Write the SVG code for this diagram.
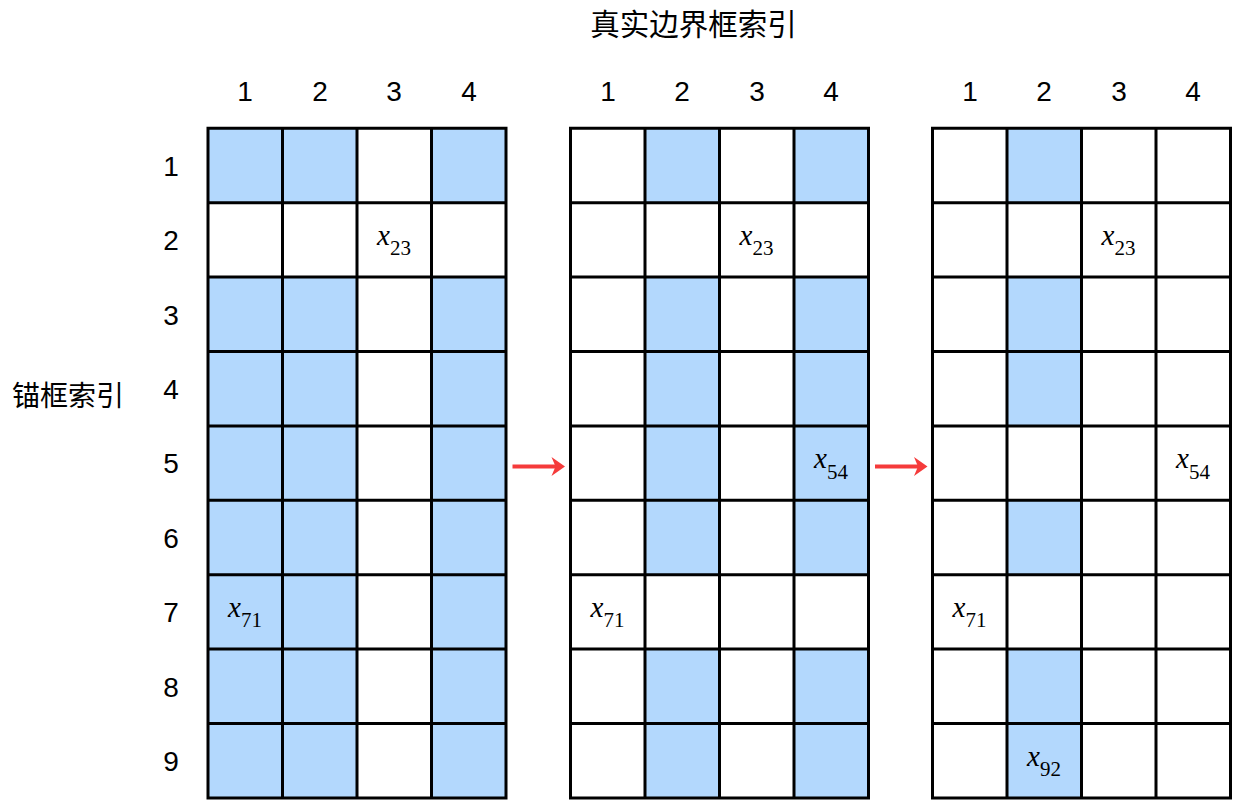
<svg xmlns="http://www.w3.org/2000/svg" width="1242" height="805" viewBox="0 0 1242 805">
<style>
.lbl{font-family:"Liberation Sans",Arial,sans-serif;font-size:28px;fill:#000;text-anchor:middle}
.cjk{font-family:"Liberation Sans","Noto Sans CJK SC",sans-serif;font-size:28px;fill:#000}
.m{font-family:"Liberation Serif","Times New Roman",serif;font-size:29px;fill:#000;text-anchor:middle}
.m .i{font-style:italic}
.m .s{font-size:21px}
.bg{fill:#fff}
.b{fill:#b3d8fd}
.grid{fill:none;stroke:#000;stroke-width:3;stroke-linecap:square}
.arr{fill:none;stroke:#f53b3b;stroke-width:4}
.ah{fill:#f53b3b}
</style>
<defs>
<path id="gl" class="grid" d="M0,0V669.6M74.5,0V669.6M149,0V669.6M223.5,0V669.6M298,0V669.6M0,0H298M0,74.4H298M0,148.8H298M0,223.2H298M0,297.6H298M0,372H298M0,446.4H298M0,520.8H298M0,595.2H298M0,669.6H298"/>
</defs>
<text class="cjk" x="693.5" y="35" text-anchor="middle" style="font-size:29.5px">真实边界框索引</text>
<text class="cjk" x="12" y="406">锚框索引</text>
<g id="col-labels">
<text class="lbl" x="245" y="101">1</text><text class="lbl" x="320" y="101">2</text><text class="lbl" x="394" y="101">3</text><text class="lbl" x="469" y="101">4</text>
<text class="lbl" x="608" y="101">1</text><text class="lbl" x="682" y="101">2</text><text class="lbl" x="757" y="101">3</text><text class="lbl" x="831" y="101">4</text>
<text class="lbl" x="970" y="101">1</text><text class="lbl" x="1044" y="101">2</text><text class="lbl" x="1119" y="101">3</text><text class="lbl" x="1193" y="101">4</text>
</g>
<g id="row-labels">
<text class="lbl" x="171" y="175.5">1</text>
<text class="lbl" x="171" y="250">2</text>
<text class="lbl" x="171" y="324.5">3</text>
<text class="lbl" x="171" y="399">4</text>
<text class="lbl" x="171" y="473">5</text>
<text class="lbl" x="171" y="547.5">6</text>
<text class="lbl" x="171" y="622">7</text>
<text class="lbl" x="171" y="696.5">8</text>
<text class="lbl" x="171" y="771">9</text>
</g>
<g id="grid1" transform="translate(208,128.3)">
<rect class="bg" width="298" height="669.6"/>
<rect class="b" x="0" y="0" width="74.5" height="74.4"/><rect class="b" x="74.5" y="0" width="74.5" height="74.4"/><rect class="b" x="223.5" y="0" width="74.5" height="74.4"/>
<rect class="b" x="0" y="148.8" width="74.5" height="520.8"/><rect class="b" x="74.5" y="148.8" width="74.5" height="520.8"/><rect class="b" x="223.5" y="148.8" width="74.5" height="520.8"/>
<use href="#gl"/>
<text class="m" x="186" y="116.6"><tspan class="i">x</tspan><tspan class="s" dy="10.5">23</tspan></text>
<text class="m" x="37" y="488.6"><tspan class="i">x</tspan><tspan class="s" dy="10.5">71</tspan></text>
</g>
<g id="grid2" transform="translate(570.5,128.3)">
<rect class="bg" width="298" height="669.6"/>
<rect class="b" x="74.5" y="0" width="74.5" height="74.4"/><rect class="b" x="223.5" y="0" width="74.5" height="74.4"/>
<rect class="b" x="74.5" y="148.8" width="74.5" height="297.6"/><rect class="b" x="223.5" y="148.8" width="74.5" height="297.6"/>
<rect class="b" x="74.5" y="520.8" width="74.5" height="148.8"/><rect class="b" x="223.5" y="520.8" width="74.5" height="148.8"/>
<use href="#gl"/>
<text class="m" x="186" y="116.6"><tspan class="i">x</tspan><tspan class="s" dy="10.5">23</tspan></text>
<text class="m" x="260.5" y="339.8"><tspan class="i">x</tspan><tspan class="s" dy="10.5">54</tspan></text>
<text class="m" x="37" y="488.6"><tspan class="i">x</tspan><tspan class="s" dy="10.5">71</tspan></text>
</g>
<g id="grid3" transform="translate(932.5,128.3)">
<rect class="bg" width="298" height="669.6"/>
<rect class="b" x="74.5" y="0" width="74.5" height="74.4"/>
<rect class="b" x="74.5" y="148.8" width="74.5" height="148.8"/>
<rect class="b" x="74.5" y="372" width="74.5" height="74.4"/>
<rect class="b" x="74.5" y="520.8" width="74.5" height="148.8"/>
<use href="#gl"/>
<text class="m" x="186" y="116.6"><tspan class="i">x</tspan><tspan class="s" dy="10.5">23</tspan></text>
<text class="m" x="260.5" y="339.8"><tspan class="i">x</tspan><tspan class="s" dy="10.5">54</tspan></text>
<text class="m" x="37" y="488.6"><tspan class="i">x</tspan><tspan class="s" dy="10.5">71</tspan></text>
<text class="m" x="111.5" y="637.4"><tspan class="i">x</tspan><tspan class="s" dy="10.5">92</tspan></text>
</g>
<g id="connectors">
<path class="arr" d="M512.5,466.5H558"/>
<path class="ah" d="M565,466.5L551.5,457L555.5,466.5L551.5,476Z"/>
<path class="arr" d="M875,466.5H920.5"/>
<path class="ah" d="M927.5,466.5L914,457L918,466.5L914,476Z"/>
</g>
</svg>
